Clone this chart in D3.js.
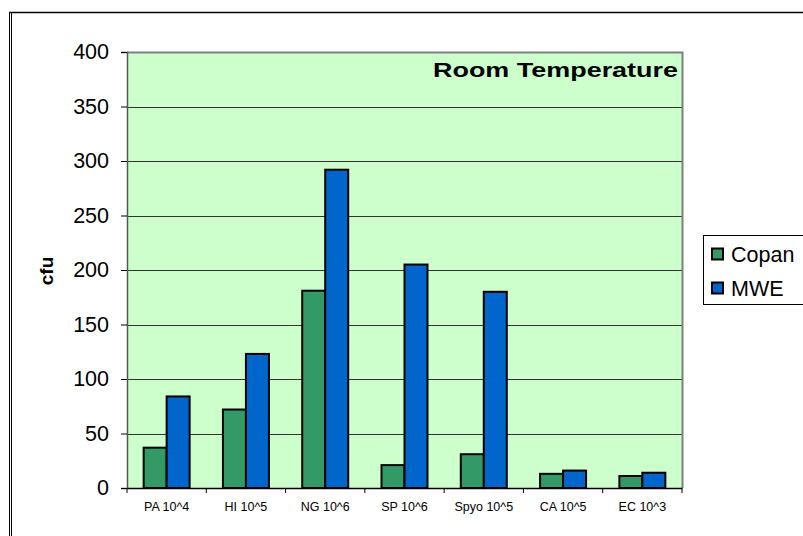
<!DOCTYPE html>
<html><head><meta charset="utf-8">
<script src="https://cdn.jsdelivr.net/npm/d3@7"></script>
<style>body{margin:0;background:#fff;}svg{display:block;font-family:"Liberation Sans",Arial,sans-serif;}</style>
</head><body>
<script>
const categories = ["PA 10^4","HI 10^5","NG 10^6","SP 10^6","Spyo 10^5","CA 10^5","EC 10^3"];
const seriesNames = ["Copan","MWE"];
const copan = [37, 72, 181, 21, 31, 13, 11];
const mwe = [84, 123, 292, 205, 180, 16, 14];
const yTicks = [0,50,100,150,200,250,300,350,400];
const colors = ["#339966","#0066CC"];

const W=803,H=536;
const FF="Liberation Sans, Arial, sans-serif";
const svg=d3.select("body").append("svg").attr("width",W).attr("height",H);
// outer frame
svg.append("line").attr("x1",9).attr("x2",W).attr("y1",12.5).attr("y2",12.5).attr("stroke","#000").attr("stroke-width",1.5);
svg.append("line").attr("x1",9.5).attr("x2",9.5).attr("y1",12).attr("y2",H).attr("stroke","#000").attr("stroke-width",1);
svg.append("line").attr("x1",11.5).attr("x2",11.5).attr("y1",12).attr("y2",H).attr("stroke","#000").attr("stroke-width",1);

const L=127,R=682,T=52,B=488;
const x=d3.scaleBand().domain(categories).range([L,R]).padding(0);
const y=d3.scaleLinear().domain([0,400]).range([B,T]);
const groupW=x.bandwidth()*0.58;
const x1=d3.scaleBand().domain(seriesNames).range([0,groupW]);

svg.append("rect").attr("x",L).attr("y",T).attr("width",R-L).attr("height",B-T).attr("fill","#CCFFCC");
// gridlines
svg.append("g").selectAll("line").data(yTicks.filter(d=>d>0)).join("line")
  .attr("x1",L).attr("x2",R).attr("y1",d=>Math.round(y(d))+0.5).attr("y2",d=>Math.round(y(d))+0.5)
  .attr("stroke","#333").attr("stroke-width",1);
// plot border right/top
svg.append("path").attr("d",`M${L},${T+0.5}H${R+0.5}V${B}`).attr("fill","none").attr("stroke","#808080").attr("stroke-width",2);

const data=categories.map((c,i)=>({cat:c,vals:[{s:"Copan",v:copan[i]},{s:"MWE",v:mwe[i]}]}));
const g=svg.append("g").selectAll("g").data(data).join("g")
  .attr("transform",d=>`translate(${x(d.cat)+(x.bandwidth()-groupW)/2},0)`);
g.selectAll("rect").data(d=>d.vals).join("rect")
  .attr("x",d=>x1(d.s)).attr("width",x1.bandwidth())
  .attr("y",d=>y(d.v)).attr("height",d=>B-y(d.v))
  .attr("fill",(d,i)=>colors[i]).attr("stroke","#000").attr("stroke-width",2);

// y axis
const ya=svg.append("g").attr("transform",`translate(${L},0)`)
  .call(d3.axisLeft(y).tickValues(yTicks).tickSize(6).tickPadding(12));
ya.select(".domain").attr("stroke","#555").attr("stroke-width",1.5);
ya.selectAll("line").attr("stroke","#000");
ya.selectAll("text").attr("font-size",21.5).attr("fill","#000").attr("font-family",FF);
// x axis
const xa=svg.append("g").attr("transform",`translate(0,${B})`)
  .call(d3.axisBottom(x).tickSize(0).tickPadding(14));
xa.select(".domain").attr("stroke","#000").attr("stroke-width",1.5);
xa.selectAll("text").attr("font-size",12.5).attr("fill","#000").attr("font-family",FF);
svg.append("g").selectAll("line").data(d3.range(categories.length+1)).join("line")
  .attr("x1",i=>L+i*x.step()).attr("x2",i=>L+i*x.step()).attr("y1",B).attr("y2",B+5).attr("stroke","#000");

// y label
svg.append("text").attr("transform","translate(53,271) rotate(-90)").attr("text-anchor","middle")
  .attr("font-size",19).attr("font-weight","bold").text("cfu");
// title
svg.append("text").attr("x",678).attr("y",77).attr("text-anchor","end").attr("font-size",20.5).attr("font-weight","bold")
  .attr("textLength",245).attr("lengthAdjust","spacingAndGlyphs").text("Room Temperature");

// legend
svg.append("rect").attr("x",703.5).attr("y",235.5).attr("width",110).attr("height",69).attr("fill","#fff").attr("stroke","#000").attr("stroke-width",1);
const lg=svg.append("g").selectAll("g").data(seriesNames).join("g").attr("transform",(d,i)=>`translate(711,${254+i*34})`);
lg.append("rect").attr("x",1).attr("y",-5.5).attr("width",11).attr("height",11).attr("fill",(d,i)=>colors[i]).attr("stroke","#000").attr("stroke-width",2);
lg.append("text").attr("x",20).attr("y",0).attr("dy","0.36em").attr("font-size",21.5).text(d=>d);
</script>
</body></html>
